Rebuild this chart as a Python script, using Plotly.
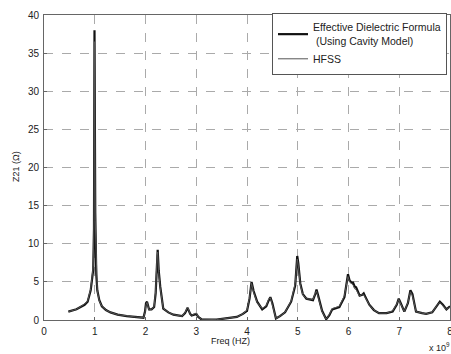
import plotly.graph_objects as go

# Frequency in units of 1e9 Hz
freq_formula = [0.48, 0.64, 0.80, 0.86, 0.92, 0.95, 0.97, 0.985, 0.99, 0.995, 1.01, 1.03, 1.05, 1.09, 1.14, 1.22, 1.31, 1.45, 1.63, 1.80, 1.96, 1.99, 2.01, 2.03, 2.07, 2.12, 2.17, 2.20, 2.23, 2.24, 2.26, 2.29, 2.35, 2.45, 2.55, 2.72, 2.78, 2.83, 2.88, 2.91, 2.96, 3.00, 3.04, 3.10, 3.40, 3.63, 3.80, 3.92, 4.00, 4.05, 4.09, 4.13, 4.20, 4.30, 4.38, 4.43, 4.46, 4.50, 4.57, 4.65, 4.75, 4.87, 4.95, 4.99, 5.01, 5.05, 5.10, 5.17, 5.30, 5.35, 5.37, 5.41, 5.48, 5.56, 5.62, 5.68, 5.82, 5.92, 5.97, 5.99, 6.02, 6.06, 6.09, 6.12, 6.15, 6.22, 6.27, 6.30, 6.35, 6.41, 6.50, 6.60, 6.75, 6.87, 6.95, 6.99, 7.03, 7.10, 7.17, 7.22, 7.26, 7.33, 7.45, 7.53, 7.65, 7.74, 7.80, 7.86, 7.93, 8.00]
z_formula = [1.1, 1.4, 2.0, 2.4, 3.9, 5.2, 6.6, 12.0, 25.0, 38.0, 14.0, 6.0, 3.9, 2.6, 1.8, 1.3, 1.0, 0.7, 0.5, 0.4, 0.3, 1.1, 2.2, 2.4, 1.4, 1.4, 1.7, 3.5, 8.0, 9.2, 6.5, 4.4, 1.5, 1.0, 0.7, 0.5, 0.9, 1.6, 0.8, 0.6, 0.7, 0.8, 0.4, 0.1, 0.05, 0.3, 0.4, 0.8, 1.2, 2.8, 5.0, 3.8, 2.4, 1.4, 1.8, 2.6, 3.0, 2.2, 0.2, 0.5, 1.0, 2.4, 4.5, 8.4, 7.5, 4.8, 3.4, 2.8, 2.6, 3.5, 4.0, 3.0, 1.2, 0.1, 0.6, 1.4, 1.7, 3.0, 5.0, 6.0, 5.2, 4.9, 4.9, 4.4, 4.3, 3.2, 3.3, 3.5, 2.8, 2.0, 1.3, 0.9, 0.9, 1.1, 2.0, 2.8, 2.2, 1.1, 2.2, 3.9, 3.4, 1.1, 0.9, 0.8, 1.0, 1.8, 2.4, 2.0, 1.4, 1.8]

freq_hfss = [0.48, 0.64, 0.80, 0.86, 0.92, 0.95, 0.97, 0.985, 0.99, 0.995, 1.01, 1.03, 1.05, 1.09, 1.14, 1.22, 1.31, 1.45, 1.63, 1.80, 1.96, 1.99, 2.01, 2.03, 2.07, 2.12, 2.17, 2.20, 2.23, 2.24, 2.26, 2.29, 2.35, 2.45, 2.55, 2.72, 2.78, 2.83, 2.88, 2.91, 2.96, 3.00, 3.04, 3.10, 3.40, 3.63, 3.80, 3.92, 4.00, 4.05, 4.09, 4.13, 4.20, 4.30, 4.38, 4.43, 4.46, 4.50, 4.57, 4.65, 4.75, 4.87, 4.95, 4.99, 5.01, 5.05, 5.10, 5.17, 5.30, 5.35, 5.37, 5.41, 5.48, 5.56, 5.62, 5.68, 5.82, 5.92, 5.97, 5.99, 6.02, 6.06, 6.09, 6.12, 6.15, 6.22, 6.27, 6.30, 6.35, 6.41, 6.50, 6.60, 6.75, 6.87, 6.95, 6.99, 7.03, 7.10, 7.17, 7.22, 7.26, 7.33, 7.45, 7.53, 7.65, 7.74, 7.80, 7.86, 7.93, 8.00]
z_hfss = [1.1, 1.4, 2.1, 2.5, 4.1, 5.5, 7.0, 13.0, 26.0, 36.5, 13.0, 5.8, 3.8, 2.5, 1.8, 1.3, 1.0, 0.7, 0.5, 0.4, 0.3, 1.0, 2.0, 2.3, 1.3, 1.4, 1.8, 3.8, 8.5, 8.9, 6.2, 4.2, 1.5, 1.0, 0.7, 0.5, 1.0, 1.7, 0.8, 0.6, 0.8, 0.9, 0.4, 0.1, 0.05, 0.3, 0.4, 0.8, 1.3, 3.0, 4.8, 3.6, 2.3, 1.5, 1.9, 2.8, 2.9, 2.0, 0.2, 0.5, 1.0, 2.5, 4.8, 8.0, 7.2, 4.6, 3.3, 2.8, 2.7, 3.6, 3.8, 2.8, 1.1, 0.1, 0.7, 1.5, 1.8, 3.2, 5.2, 5.7, 5.0, 4.7, 4.6, 4.1, 4.0, 3.1, 3.4, 3.3, 2.7, 2.0, 1.3, 0.9, 0.9, 1.2, 2.1, 2.7, 2.1, 1.1, 2.3, 3.7, 3.2, 1.1, 0.9, 0.8, 1.0, 1.9, 2.3, 1.9, 1.4, 1.7]

x_ticks = [0, 1, 2, 3, 4, 5, 6, 7, 8]
y_ticks = [0, 5, 10, 15, 20, 25, 30, 35, 40]

FONT = "Liberation Sans, Arial, sans-serif"
W, H = 451, 354
L, R, T, B = 44, 1, 15, 34

fig = go.Figure()
fig.add_trace(go.Scatter(x=freq_formula, y=z_formula, mode="lines",
                         name="Effective Dielectric Formula<br> (Using Cavity Model)",
                         line=dict(color="#111111", width=2.2)))
fig.add_trace(go.Scatter(x=freq_hfss, y=z_hfss, mode="lines", name="HFSS",
                         line=dict(color="#555555", width=1)))

axis_common = dict(showline=True, linecolor="#666666", linewidth=1, mirror=True,
                   showgrid=True, gridcolor="#aaaaaa", griddash="dash", gridwidth=1,
                   zeroline=False, ticks="inside", ticklen=3, tickcolor="#666666",
                   automargin=False, ticklabeloverflow="allow",
                   tickfont=dict(family=FONT, size=10, color="#222222"))

fig.update_xaxes(range=[0, 8], tickvals=x_ticks, ticktext=[str(v) for v in x_ticks],
                 ticklabelstandoff=2, **axis_common)
fig.update_yaxes(range=[0, 40], tickvals=y_ticks, ticktext=[str(v) for v in y_ticks],
                 ticklabelstandoff=2, **axis_common)

pw, ph = W - L - R, H - T - B
def px(xp):
    return (xp - L) / pw
def py(yp):
    return (H - B - yp) / ph

fig.add_annotation(text="Freq (HZ)", xref="paper", yref="paper", x=px(230), y=py(341),
                   xanchor="center", yanchor="middle", showarrow=False,
                   font=dict(family=FONT, size=9, color="#222222"))
fig.add_annotation(text="Z21 (Ω)", xref="paper", yref="paper", x=px(16), y=py(167),
                   xanchor="center", yanchor="middle", showarrow=False, textangle=-90,
                   font=dict(family=FONT, size=9, color="#222222"))
fig.add_annotation(text="x 10<sup>9</sup>", xref="paper", yref="paper", x=px(452), y=py(347),
                   xanchor="right", yanchor="middle", showarrow=False,
                   font=dict(family=FONT, size=9, color="#222222"))

fig.update_layout(
    width=W, height=H,
    margin=dict(l=L, r=R, t=T, b=B, autoexpand=False),
    paper_bgcolor="white", plot_bgcolor="white",
    showlegend=True,
    legend=dict(x=px(447), y=py(13), xanchor="right", yanchor="top",
                bgcolor="white", bordercolor="#555555", borderwidth=1,
                font=dict(family=FONT, size=10.5, color="#222222"),
                tracegroupgap=0),
)

fig.write_html("out.html", config={"displayModeBar": False},
               post_script="document.body.style.margin='0';document.body.style.padding='0';")
